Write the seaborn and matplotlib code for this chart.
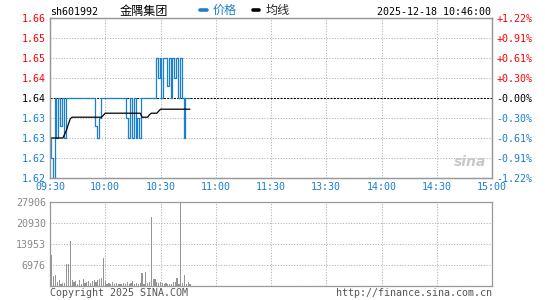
import numpy as np
import pandas as pd
import seaborn as sns
import matplotlib.pyplot as plt
from matplotlib.lines import Line2D

# minute data, 09:30 -> 10:46 (minute 0 = 09:30)
price = [1.630, 1.625, 1.620, 1.640, 1.630, 1.640, 1.633, 1.640, 1.630, 1.640,
         1.640, 1.640, 1.640, 1.640, 1.640, 1.640, 1.640, 1.640, 1.640, 1.640,
         1.640, 1.640, 1.640, 1.640, 1.640, 1.633, 1.630, 1.635, 1.640, 1.640,
         1.640, 1.640, 1.640, 1.640, 1.640, 1.640, 1.640, 1.640, 1.640, 1.640,
         1.640, 1.640, 1.635, 1.630, 1.640, 1.630, 1.640, 1.630, 1.635, 1.630,
         1.640, 1.640, 1.640, 1.640, 1.640, 1.640, 1.640, 1.640, 1.650, 1.645,
         1.650, 1.640, 1.650, 1.650, 1.643, 1.650, 1.640, 1.650, 1.645, 1.650,
         1.640, 1.650, 1.640, 1.630, 1.640, 1.640, 1.640]
avg_price = [1.6300, 1.6300, 1.6300, 1.6300, 1.6300, 1.6300, 1.6300, 1.6300, 1.6310, 1.6320,
             1.6335, 1.6348, 1.6352, 1.6352, 1.6352, 1.6352, 1.6352, 1.6352, 1.6352, 1.6352,
             1.6352, 1.6352, 1.6352, 1.6352, 1.6352, 1.6352, 1.6352, 1.6352, 1.6352, 1.6357,
             1.6362, 1.6362, 1.6362, 1.6362, 1.6362, 1.6362, 1.6362, 1.6362, 1.6362, 1.6362,
             1.6362, 1.6362, 1.6362, 1.6362, 1.6362, 1.6362, 1.6362, 1.6362, 1.6362, 1.6362,
             1.6352, 1.6352, 1.6352, 1.6352, 1.6358, 1.6362, 1.6362, 1.6362, 1.6362, 1.6367,
             1.6372, 1.6372, 1.6372, 1.6372, 1.6372, 1.6372, 1.6372, 1.6372, 1.6372, 1.6372,
             1.6372, 1.6372, 1.6372, 1.6372, 1.6372, 1.6372, 1.6372]
volume = [2400, 10200, 3300, 3550, 1300, 1900, 700, 800, 1000, 7300,
          7300, 14850, 1900, 1100, 1500, 600, 1900, 700, 2200, 800,
          1200, 1500, 1000, 1400, 1800, 1200, 2000, 2100, 2500, 9300,
          1500, 700, 900, 400, 1100, 600, 800, 500, 700, 400,
          900, 600, 1100, 500, 900, 1500, 700, 1000, 600, 800,
          4330, 700, 4660, 1000, 1300, 22900, 2200, 2200, 1100, 800,
          1100, 1000, 400, 800, 600, 700, 600, 1100, 1100, 2650,
          700, 27906, 800, 3550, 700, 1100, 500]

prev_close = 1.64
price_ticks = [1.62, 1.625, 1.63, 1.635, 1.64, 1.645, 1.65, 1.655, 1.66]
price_labels = ["1.62", "1.62", "1.63", "1.63", "1.64", "1.64", "1.65", "1.65", "1.66"]
pct_labels = ["-1.22%", "-0.91%", "-0.61%", "-0.30%", "-0.00%",
              "+0.30%", "+0.61%", "+0.91%", "+1.22%"]
time_ticks = [0, 30, 60, 90, 120, 150, 180, 210, 240]
time_labels = ["09:30", "10:00", "10:30", "11:00", "11:30", "13:30", "14:00", "14:30", "15:00"]
vol_ticks = [0, 6976, 13953, 20930, 27906]
vol_labels = ["", "6976", "13953", "20930", "27906"]

df = pd.DataFrame({"minute": np.arange(len(price)), "price": price,
                   "avg": avg_price, "volume": volume})

BLUE = "#1a7fcf"
RED = "#ff0000"
GRID = "#b0b0b0"
FRAME = "#999999"

sns.set_style("white")
plt.rcParams['font.family'] = ['DejaVu Sans Mono', 'Noto Sans CJK SC']
FS = 7.2

W, H = 545, 300
fig = plt.figure(figsize=(W / 100, H / 100), dpi=100)
ax = fig.add_axes([50 / W, 1 - 178 / H, 442 / W, 160 / H])
axv = fig.add_axes([50 / W, 1 - 285.7 / H, 442 / W, 84 / H])

# price + average
sns.lineplot(data=df, x="minute", y="price", ax=ax, color=BLUE, lw=0.9, estimator=None,
             drawstyle="steps-mid")
sns.lineplot(data=df, x="minute", y="avg", ax=ax, color="black", lw=0.9, estimator=None)
ax.set_xlim(0, 240)
ax.set_ylim(price_ticks[0], price_ticks[-1])
ax.set_xticks(time_ticks)
ax.set_xticklabels(time_labels)
ax.set_yticks(price_ticks)
ax.set_yticklabels(price_labels)
ax.set_xlabel("")
ax.set_ylabel("")
ax.grid(True, color=GRID, linestyle=(0, (1, 1.6)), lw=0.75)
ax.set_axisbelow(True)
gl = ax.get_ygridlines()[price_ticks.index(prev_close)]
gl.set_color("black")
gl.set_linestyle((0, (2, 1.2)))
ax.tick_params(length=0, labelsize=FS, pad=3)
for t in ax.get_xticklabels():
    t.set_color(BLUE)


def tick_color(v):
    if abs(v - prev_close) < 1e-9:
        return "black"
    return RED if v > prev_close else BLUE


for t, v in zip(ax.get_yticklabels(), price_ticks):
    t.set_color(tick_color(v))

ax2 = ax.twinx()
ax2.set_ylim(price_ticks[0], price_ticks[-1])
ax2.set_yticks(price_ticks)
ax2.set_yticklabels(pct_labels)
ax2.tick_params(length=0, labelsize=FS, pad=3)
for t, v in zip(ax2.get_yticklabels(), price_ticks):
    t.set_color(tick_color(v))

for a in (ax, ax2, axv):
    for s in a.spines.values():
        s.set_color(FRAME)
        s.set_linewidth(0.9)

# volume
sns.barplot(x=df["minute"], y=df["volume"], ax=axv, native_scale=True, color="#959595",
            width=0.65, errorbar=None, saturation=1, linewidth=0)
for p in axv.patches:
    p.set_antialiased(False)
axv.set_xlim(0, 240)
axv.set_ylim(0, vol_ticks[-1])
axv.set_xticks(time_ticks)
axv.set_xticklabels([])
axv.set_yticks(vol_ticks)
axv.set_yticklabels(vol_labels)
axv.set_xlabel("")
axv.set_ylabel("")
axv.grid(True, color=GRID, linestyle=(0, (1, 1.6)), lw=0.75)
axv.set_axisbelow(True)
axv.tick_params(length=0, labelsize=FS, pad=3, labelcolor="#888888")

# header
fig.text(50 / W, 1 - 12 / H, "sh601992", fontsize=FS, color="black", va="center", ha="left")
fig.text(120 / W, 1 - 12 / H, "金隅集团", fontsize=8.7, color="black", va="center", ha="left",
         family=['Noto Sans CJK SC'])
fig.text(491 / W, 1 - 12 / H, "2025-12-18 10:46:00", fontsize=FS, color="black",
         va="center", ha="right")
leg = ax.legend(handles=[Line2D([], [], color=BLUE, lw=2.6), Line2D([], [], color="black", lw=2.6)],
                labels=["价格", "均线"], loc="lower left", bbox_to_anchor=(0.337, 1.0),
                ncol=2, frameon=False, handlelength=0.55, handletextpad=0.5,
                columnspacing=1.3, borderpad=0, borderaxespad=0.1,
                prop={"family": ['Noto Sans CJK SC'], "size": 8.7})
leg.get_texts()[0].set_color(BLUE)

# watermark
fig.text(470 / W, 1 - 162 / H, "sina", fontsize=10, color="#c8c8c8", style="italic",
         weight="bold", ha="center", va="center", family="DejaVu Sans")

# footer
fig.text(50 / W, 1 - 293 / H, "Copyright 2025 SINA.COM", fontsize=FS, color="#555555",
         va="center", ha="left")
fig.text(492 / W, 1 - 293 / H, "http://finance.sina.com.cn", fontsize=FS, color="#555555",
         va="center", ha="right")

fig.savefig("out.png", dpi=100)
